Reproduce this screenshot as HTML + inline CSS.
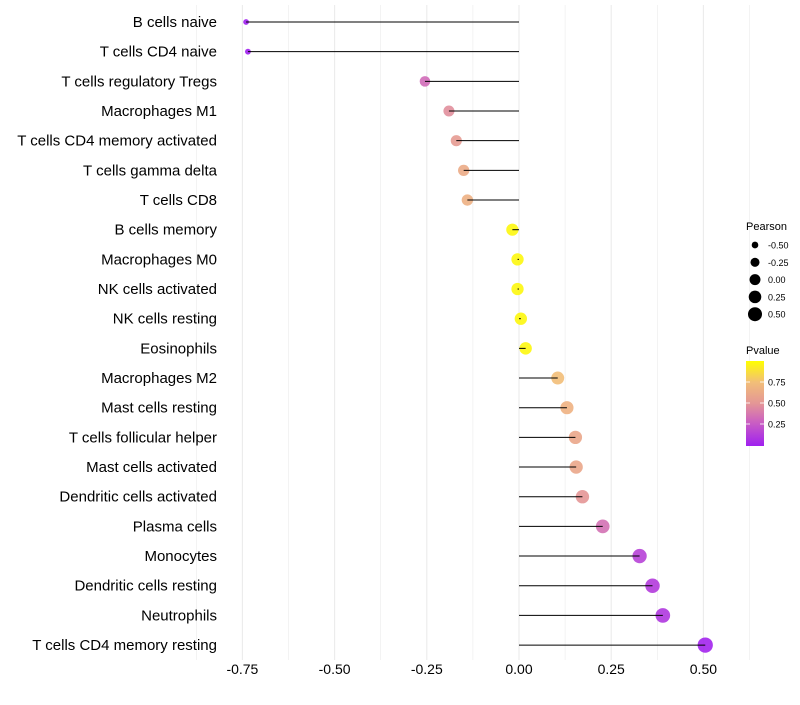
<!DOCTYPE html>
<html><head><meta charset="utf-8"><style>
body{margin:0;background:#fff;font-family:"Liberation Sans",sans-serif}
svg text{font-family:"Liberation Sans",sans-serif}
</style></head><body>
<svg id="chart" width="800" height="700"></svg>
<script>
const categories=["B cells naive","T cells CD4 naive","T cells regulatory  Tregs ","Macrophages M1","T cells CD4 memory activated","T cells gamma delta","T cells CD8","B cells memory","Macrophages M0","NK cells activated","NK cells resting","Eosinophils","Macrophages M2","Mast cells resting","T cells follicular helper","Mast cells activated","Dendritic cells activated","Plasma cells","Monocytes","Dendritic cells resting","Neutrophils","T cells CD4 memory resting"];
const pearson=[-0.74,-0.735,-0.255,-0.19,-0.17,-0.15,-0.14,-0.018,-0.004,-0.004,0.005,0.018,0.105,0.13,0.153,0.155,0.172,0.227,0.327,0.362,0.39,0.505];
const pvalue=[0.0,0.0,0.33,0.47,0.53,0.63,0.66,0.97,0.97,0.97,0.97,0.97,0.75,0.67,0.6,0.6,0.5,0.35,0.15,0.12,0.1,0.02];
const xTicks=[-0.75,-0.5,-0.25,0,0.25,0.5];
const xTickLabels=["-0.75","-0.50","-0.25","0.00","0.25","0.50"];
const sizeLegend=[-0.5,-0.25,0,0.25,0.5];
const sizeLegendLabels=["-0.50","-0.25","0.00","0.25","0.50"];
const pTicks=[0.25,0.5,0.75];
const pTickLabels=["0.25","0.50","0.75"];

const NS="http://www.w3.org/2000/svg";
const svg=document.getElementById('chart');
function el(t,a,p){const e=document.createElementNS(NS,t);for(const k in a)e.setAttribute(k,a[k]);(p||svg).appendChild(e);return e;}
const x=v=>519+v*368.8;
const y=i=>22+i*29.67;
const rad=p=>Math.sqrt(Math.max(38+40*p,4));
const lrad=p=>Math.sqrt(Math.max(30+38*p,2));
const stops=[[0,[160,32,240]],[0.3,[205,100,190]],[0.5,[228,150,150]],[0.75,[242,190,120]],[1,[255,255,0]]];
function col(p){for(let i=1;i<stops.length;i++){if(p<=stops[i][0]){const a=stops[i-1],b=stops[i],t=(p-a[0])/(b[0]-a[0]);return 'rgb('+a[1].map((c,j)=>Math.round(c+(b[1][j]-c)*t)).join(',')+')';}}return 'rgb(255,255,0)';}

for(let v=-0.875;v<=0.625;v+=0.125){
  const g=el('line',{x1:x(v),x2:x(v),y1:5,y2:660,stroke:'#ebebeb','stroke-width':Math.abs((v*8)%2)>0.5?0.6:1.1});
  
  
}
xTicks.forEach((v,i)=>{
  const t=el('text',{x:x(v),y:674,'text-anchor':'middle','font-size':14,fill:'#000'});t.textContent=xTickLabels[i];
  
  
});
categories.forEach((c,i)=>{
  const t=el('text',{x:217,y:y(i)+5,'text-anchor':'end','font-size':15,fill:'#000'});t.textContent=c;
  
  
  const pt=el('circle',{cx:x(pearson[i]),cy:y(i),r:rad(pearson[i]),fill:col(pvalue[i]),'fill-opacity':0.9});
  
  
  const ln=el('line',{x1:x(0),x2:x(pearson[i]),y1:y(i),y2:y(i),stroke:'#000','stroke-width':1});
  
  
});
let tt=el('text',{x:746,y:230,'font-size':11});tt.textContent="Pearson";


sizeLegend.forEach((v,i)=>{
  const cy=245+i*17.3;
  const c=el('circle',{cx:755,cy:cy,r:lrad(v),fill:'#000'});
  
  
  const t=el('text',{x:768,y:cy+3.5,'font-size':9});t.textContent=sizeLegendLabels[i];
  
  
});
tt=el('text',{x:746,y:354,'font-size':11});tt.textContent="Pvalue";


const defs=el('defs',{});
const lg=el('linearGradient',{id:'pg',x1:0,y1:1,x2:0,y2:0},defs);
stops.forEach(s=>el('stop',{offset:s[0],'stop-color':col(s[0])},lg));
const bar=el('rect',{x:746,y:361,width:18,height:85,fill:'url(#pg)'});


pTicks.forEach((v,i)=>{
  const cy=445-v*84;
  el('line',{x1:746,x2:750,y1:cy,y2:cy,stroke:'#fff','stroke-width':0.8});
  el('line',{x1:760,x2:764,y1:cy,y2:cy,stroke:'#fff','stroke-width':0.8});
  const t=el('text',{x:768,y:cy+3.5,'font-size':9});t.textContent=pTickLabels[i];
  
  
});
</script>
</body></html>
